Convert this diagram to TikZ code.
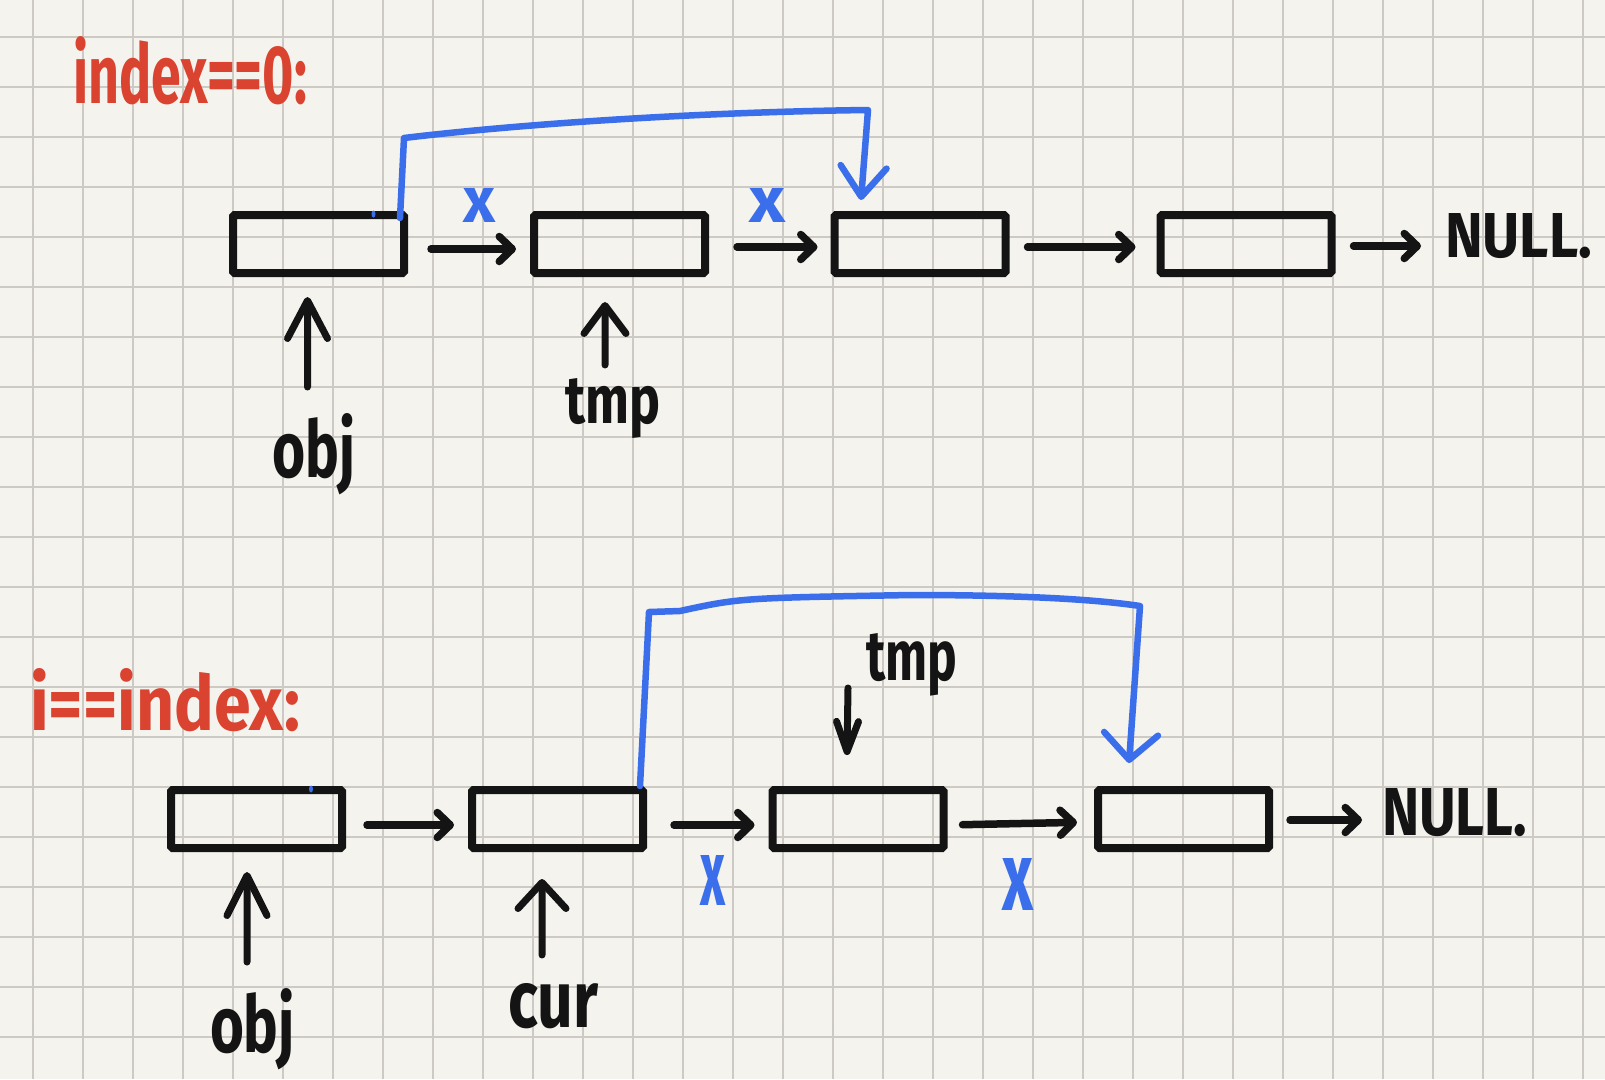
\documentclass[tikz,border=0pt]{standalone}
\usepackage{fontspec}
\usepackage{graphicx}
\usetikzlibrary{arrows.meta}
\newfontfamily\hand{Fira Sans}
\definecolor{ink}{HTML}{141414}
\definecolor{redink}{HTML}{D9432F}
\definecolor{blueink}{HTML}{3A6EEA}
\definecolor{paper}{HTML}{F5F3EE}
\definecolor{gridc}{HTML}{CDCAC5}
\begin{document}
\begin{tikzpicture}[x=1pt,y=-1pt,
  gridline/.style={draw=gridc, line width=1.5pt},
  llbox/.style={draw=ink, line width=8pt, minimum width=171pt, minimum height=58pt, inner sep=0pt, rounded corners=1.5pt},
  conn/.style={draw=ink, line width=7.5pt, line cap=round, -{Straight Barb[length=13pt,width=25pt,round]}},
  ptr/.style={draw=ink, line width=7pt, line cap=round},
  bconn/.style={draw=blueink, line width=6.5pt, line cap=round, line join=round},
  lbl/.style={inner sep=0pt, outer sep=0pt, anchor=base west, font=\hand\bfseries}
]
\fill[paper] (0,0) rectangle (1605,1079);
\useasboundingbox (0,0) rectangle (1605,1079);
\foreach \i in {0,...,31} \draw[gridline] ({33+50*\i},0) -- ({33+50*\i},1079);
\foreach \j in {0,...,20} \draw[gridline] (0,{37+50*\j}) -- (1605,{37+50*\j});

% titles
\node[lbl, text=redink] (title1) at (73,103) {\resizebox{234pt}{67pt}{index==0:}};
\node[lbl, text=redink] (title2) at (30,730) {\resizebox{270pt}{62pt}{i==index:}};

% top row
\node[llbox] (b1) at (318.5,244) {};
\node[llbox] (b2) at (619.5,244) {};
\node[llbox] (b3) at (920,244) {};
\node[llbox] (b4) at (1246,244) {};
\node[lbl, text=ink] (nullT) at (1445,257) {\resizebox{147pt}{44pt}{NULL.}};
\coordinate (n1) at (b4.east -| nullT.west);

\draw[conn, shorten <=23pt, shorten >=14pt] ([yshift=-5pt]b1.east) -- ([yshift=-5pt]b2.west);
\draw[conn, shorten <=28pt, shorten >=13pt] ([yshift=-3pt]b2.east) -- ([yshift=-3pt]b3.west);
\draw[conn, shorten <=18pt, shorten >=21pt] ([yshift=-3pt]b3.east) -- ([yshift=-3pt]b4.west);
\draw[conn, shorten <=18pt, shorten >=24pt] ([yshift=-2pt]b4.east) -- ([yshift=-2pt]n1);

\node[lbl, text=ink] (objT) at (272,477) {\resizebox{83pt}{64pt}{obj}};
\node[lbl, text=ink] (tmpT) at (565,423) {\resizebox{95pt}{45pt}{tmp}};
\draw[ptr, -{Straight Barb[length=38pt,width=40pt,round]}] ([xshift=-6pt,yshift=26pt]objT.north) -- ([xshift=-11pt,yshift=-20pt]b1.south);
\draw[ptr, -{Straight Barb[length=28pt,width=42pt,round]}] ([xshift=-7.5pt,yshift=13pt]tmpT.north) -- ([xshift=-14.5pt,yshift=-25pt]b2.south);

\node[lbl, text=blueink] (xa) at (463,222) {\resizebox{32pt}{34pt}{x}};
\node[lbl, text=blueink] (xb) at (749,222) {\resizebox{36pt}{34pt}{x}};

\coordinate (u1) at (404,138);
\coordinate (u2) at (868,110);
\draw[bconn, -{Straight Barb[length=30pt,width=46pt,round]}] ([xshift=-8pt,yshift=-7pt]b1.north east) -- (u1) .. controls (520,124) and (700,112) .. (u2) -- ([xshift=-59pt,yshift=11pt]b3.north);
\fill[blueink] (373.5,214) ellipse (2pt and 3.5pt);

% bottom row
\node[llbox] (c1) at (256.5,819) {};
\node[llbox] (c2) at (557.5,819) {};
\node[llbox] (c3) at (858,819) {};
\node[llbox] (c4) at (1183.5,819) {};
\node[lbl, text=ink] (nullB) at (1382,835) {\resizebox{145pt}{47pt}{NULL.}};
\coordinate (n2) at (c4.east -| nullB.west);

\draw[conn, shorten <=21pt, shorten >=14pt] ([yshift=-6pt]c1.east) -- ([yshift=-6pt]c2.west);
\draw[conn, shorten <=27pt, shorten >=14pt] ([yshift=-6pt]c2.east) -- ([yshift=-6pt]c3.west);
\draw[conn, shorten <=15pt, shorten >=17pt] ([yshift=-6pt]c3.east) -- ([yshift=-3pt]c4.west);
\draw[conn, shorten <=17pt, shorten >=20pt] ([yshift=-1pt]c4.east) -- ([yshift=-1pt]n2);

\node[lbl, text=ink] (objB) at (210,1052) {\resizebox{85pt}{64pt}{obj}};
\node[lbl, text=ink] (curB) at (508,1027) {\resizebox{90pt}{44pt}{cur}};
\node[lbl, text=ink] (tmpB) at (866,680) {\resizebox{91pt}{47pt}{tmp}};
\draw[ptr, -{Straight Barb[length=40pt,width=40pt,round]}] ([xshift=-5.5pt,yshift=26pt]objB.north) -- ([xshift=-9.5pt,yshift=-20pt]c1.south);
\draw[ptr, -{Straight Barb[length=26pt,width=48pt,round]}] ([xshift=-11pt,yshift=28pt]curB.north) -- ([xshift=-15.5pt,yshift=-27pt]c2.south);
\draw[ptr, -{Straight Barb[length=30pt,width=22pt,round]}] ([xshift=-18pt,yshift=-8pt]tmpB.base west) -- ([xshift=-11pt,yshift=31pt]c3.north);

\node[lbl, text=blueink] (xc) at (700,905) {\resizebox{25pt}{50pt}{x}};
\node[lbl, text=blueink] (xd) at (1002,910) {\resizebox{31pt}{52pt}{x}};

\coordinate (v1) at (649,612);
\coordinate (v2) at (680,611);
\coordinate (v3) at (912,595);
\coordinate (v4) at (1140,606);
\draw[bconn, -{Straight Barb[length=26pt,width=54pt,round]}] ([xshift=-7pt]c2.north east) -- (v1) -- (v2) .. controls (740,598) .. (v3) .. controls (1030,595) and (1100,600) .. (v4) -- ([xshift=-54.5pt,yshift=23pt]c4.north);
\fill[blueink] (311,789) ellipse (2pt and 3.5pt);
\end{tikzpicture}
\end{document}
